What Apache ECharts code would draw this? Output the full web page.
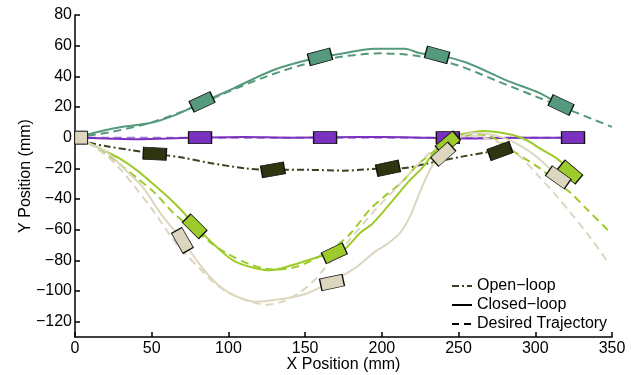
<!DOCTYPE html>
<html><head><meta charset="utf-8">
<script src="https://cdn.jsdelivr.net/npm/echarts@6/dist/echarts.min.js"></script>
<style>html,body{margin:0;padding:0;background:#fff}#c{width:631px;height:375px}</style>
</head><body><div id="c"></div>
<script>
const xTicks=[0,50,100,150,200,250,300,350];
const yTicks=[-120,-100,-80,-60,-40,-20,0,20,40,60,80];
const legendNames=['Open\u2212loop','Closed\u2212loop','Desired Trajectory'];

const tealDesired=[[0,0],[25,4],[50,10],[75,19],[100,30],[125,40],[150,48],[175,53],[200,55],[225,53],[250,47],[275,37],[300,27],[325,17],[350,7]];
const tealActual=[[0,0],[16,4],[30,7],[49,9.5],[66,15],[83,23],[103,32],[129,44],[153,51],[175,55],[195,58],[215,58],[225,55],[236,54],[255,49],[282,37],[303,29],[318,20]];
const purpleDesired=[[0,0],[325,0]];
const purpleActual=[[0,0],[20,-0.5],[40,-1],[60,-0.5],[80,0],[110,0.5],[140,0],[170,0.3],[200,0.5],[230,0],[260,-0.5],[290,0],[325,0]];
const openLoop=[[0,0],[10,-3.5],[20,-5.5],[36,-8],[52,-10.5],[70,-13],[88,-16.5],[111,-20],[129,-21],[153,-21],[175,-21.5],[204,-20],[212,-20],[229,-17],[251,-12.6],[269,-9.5],[280,-8.5]];
const limeDesired=[[0,0],[10,-4],[20,-10],[30,-18],[40,-26],[52,-36],[65,-50],[78,-60],[89,-69],[100,-76],[115,-83],[130,-86],[145,-84],[160,-77],[170,-71],[180,-62],[192,-47],[202,-38],[212,-30],[222,-19],[230,-12],[238,-6],[248,-1],[256,1.5],[263,2],[270,1],[278,-3],[286,-9],[303,-20],[314,-29],[323,-36],[334,-47],[348,-61]];
const limeActual=[[0,0],[10,-4],[18,-8],[29,-13.5],[40,-21],[53,-32],[62,-40],[70,-48],[78,-57],[92,-71],[103,-80],[115,-84.5],[127,-86.5],[142,-83],[158,-78],[169,-75],[175,-73.5],[186,-62],[194,-56],[207,-41],[218,-28],[226,-20],[234,-10],[244,0],[256,3],[266,4.3],[284,2],[295,-2],[303,-7],[314,-13.5],[323,-22]];
const beigeDesired=[[0,0],[8.5,-3.5],[21.5,-12.6],[30,-21],[39,-32],[52,-49],[65,-68],[73,-77],[82,-86],[90,-94],[100,-101],[112,-106],[125,-109],[135,-107],[145,-102],[155,-94],[162,-86],[177,-69],[194,-49],[212,-30],[231,-10],[240,-4],[248,0],[255,1.5],[262,1],[270,-1],[276,-3],[284,-7],[293,-15],[303,-26],[313,-37],[323,-49],[335,-64],[348,-82]];
const beigeActual=[[0,0],[10,-4],[20,-9],[28,-16],[36,-24],[44,-32],[57,-51],[70,-67],[80,-81],[90,-93],[101,-101.5],[118,-107],[136,-105],[150,-102],[160,-97.5],[168,-94],[176,-89],[184,-84],[196,-74],[204,-69],[212,-62],[218,-52],[223,-40],[228,-28],[233,-18],[238,-11],[245,-3],[252,1],[259,3],[268,2.5],[279,0],[288,-4],[297,-9.5],[306,-17],[315,-26]];

const tealMarkers=[[82.8,23.3],[159.7,52.7],[236,54],[316.8,21.3]];
const tealHeadings=[25,15,-15,-25];
const purpleMarkers=[[81.5,0],[163,0],[243,0],[324.6,0]];
const purpleHeadings=[0,0,0,0];
const openMarkers=[[52,-10.5],[129,-21],[204,-20],[277,-8.7]];
const openHeadings=[-3,10,12,20];
const limeMarkers=[[78,-57.8],[169,-75.4],[243,-3.5],[322.7,-22.4]];
const limeHeadings=[-45,25,40,-40];
const beigeMarkers=[[70,-67],[167.5,-94.4],[240,-10.8],[315,-25.9]];
const beigeHeadings=[-60,12,42,-35];
const startMarker=[[4,0]];

const C={teal:'#559A7C',purple:'#7A31BF',olive:'#2F3511',oliveLine:'#3B4219',lime:'#9DCB2B',beige:'#DDD6BE'};
const FONT='Liberation Sans';

function line(data,color,type,z){
  return {type:'line',data:data,showSymbol:false,symbol:'none',smooth:0.3,z:z,silent:true,
    lineStyle:{color:color,width:2,type:type},itemStyle:{color:color}};
}
function markers(pts,heads,color,z,size){
  return {type:'scatter',z:z,silent:true,symbol:'rect',
    data:pts.map((p,i)=>({value:p,symbolRotate:heads?heads[i]:0})),
    symbolSize:size||[23,12],
    itemStyle:{color:color,borderColor:'#111',borderWidth:1,opacity:1}};
}
const dash=[8,5];
const dashDot=[7,3,2,3];
const series=[
  line(tealDesired,C.teal,dash,2), line(tealActual,C.teal,'solid',2),
  line(purpleDesired,'#A77AD8',dash,3), line(purpleActual,C.purple,'solid',3),
  line(openLoop,C.oliveLine,dashDot,4),
  line(limeDesired,C.lime,dash,5), line(limeActual,C.lime,'solid',5),
  line(beigeDesired,C.beige,dash,6), line(beigeActual,C.beige,'solid',6),
  markers(tealMarkers,tealHeadings,C.teal,10),
  markers(purpleMarkers,purpleHeadings,C.purple,11),
  markers(openMarkers,openHeadings,C.olive,12),
  markers(limeMarkers,limeHeadings,C.lime,13),
  markers(beigeMarkers,beigeHeadings,C.beige,14),
  markers(startMarker,null,C.beige,15,[13,13]),
  {type:'line',name:legendNames[0],data:[],symbol:'none',lineStyle:{color:C.oliveLine,width:2,type:dashDot},itemStyle:{color:C.oliveLine}},
  {type:'line',name:legendNames[1],data:[],symbol:'none',lineStyle:{color:'#000',width:2,type:'solid'},itemStyle:{color:'#000'}},
  {type:'line',name:legendNames[2],data:[],symbol:'none',lineStyle:{color:'#000',width:2,type:[7,5]},itemStyle:{color:'#000'}}
];
const minus=v=>String(v).replace('-','\u2212');
const chart=echarts.init(document.getElementById('c'),null,{renderer:'canvas'});
chart.setOption({
  animation:false,
  backgroundColor:'#fff',
  textStyle:{fontFamily:FONT},
  grid:{left:75,right:19,top:15,bottom:38,containLabel:false,outerBoundsMode:'none'},
  legend:{data:legendNames,orient:'vertical',left:446,top:273,itemWidth:20,itemHeight:10,itemGap:3,
    selectedMode:false,itemStyle:{opacity:0,borderWidth:0},
    textStyle:{fontFamily:FONT,fontSize:16,color:'#000'}},
  xAxis:{type:'value',min:0,max:350,
    name:'X Position (mm)',nameLocation:'middle',nameGap:20,nameMoveOverlap:false,
    nameTextStyle:{fontFamily:FONT,fontSize:16,color:'#000'},
    axisLine:{show:true,onZero:false,lineStyle:{color:'#000',width:1.5}},
    axisTick:{show:true,inside:true,length:5,customValues:xTicks,lineStyle:{color:'#000',width:1.5}},
    axisLabel:{customValues:xTicks,margin:4,fontFamily:FONT,fontSize:16,color:'#000',formatter:minus},
    splitLine:{show:false}},
  yAxis:{type:'value',min:-130,max:80,
    name:'Y Position (mm)',nameLocation:'middle',nameGap:41,nameMoveOverlap:false,
    nameTextStyle:{fontFamily:FONT,fontSize:16,color:'#000'},
    axisLine:{show:true,onZero:false,lineStyle:{color:'#000',width:1.5}},
    axisTick:{show:true,inside:true,length:5,customValues:yTicks,lineStyle:{color:'#000',width:1.5}},
    axisLabel:{customValues:yTicks,margin:3,fontFamily:FONT,fontSize:16,color:'#000',formatter:minus},
    splitLine:{show:false}},
  series:series
});
</script></body></html>
